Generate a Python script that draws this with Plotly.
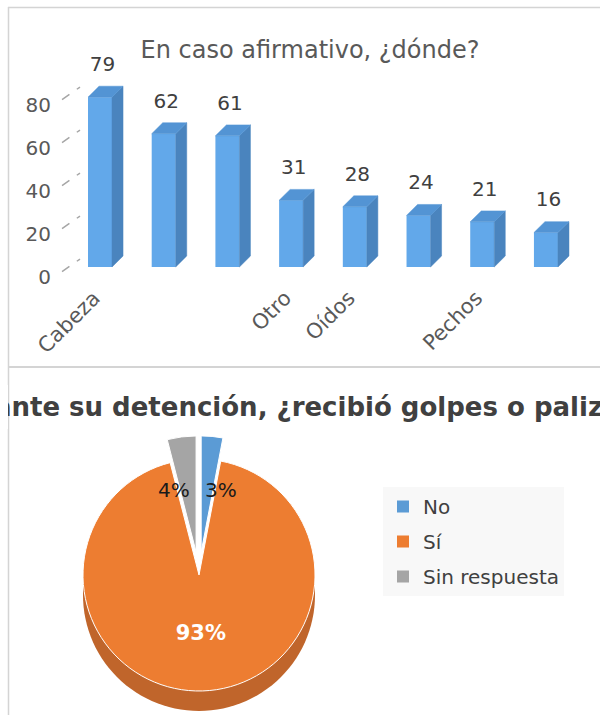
import numpy as np
import plotly.graph_objects as go

# ---------------- data ----------------
bar_title = "En caso afirmativo, ¿dónde?"
bar_values = [79, 62, 61, 31, 28, 24, 21, 16]
# Only the category labels that are visible in the picture (others hidden by the chart)
bar_tick_labels = ["Cabeza", "", "", "Otro", "Oídos", "", "Pechos", ""]
y_ticks = [0, 20, 40, 60, 80]

pie_title = "Durante su detención, ¿recibió golpes o palizas?"
pie_labels = ["No", "Sí", "Sin respuesta"]
pie_values = [3, 93, 4]
pie_colors = ["#5B9BD5", "#ED7D31", "#A5A5A5"]

# ---------------- geometry helpers ----------------
W, H = 600, 715
FONT = "DejaVu Sans"


def px(x):
    return x / W


def py(y):
    return 1 - y / H


idx = list(range(len(bar_values)))
bw = 0.377      # front face width (category units)
dx = 0.173      # 3-D depth, x
dy = 5.1        # 3-D depth, y (value units)
h = bw / 2

# top and side faces of the 3-D bars, built from the data
top_x, top_y, side_x, side_y = [], [], [], []
for i, v in zip(idx, bar_values):
    top_x += [i - h, i + h, i + h + dx, i - h + dx, i - h, None]
    top_y += [v, v, v + dy, v + dy, v, None]
    side_x += [i + h, i + h, i + h + dx, i + h + dx, i + h, None]
    side_y += [0, v, v + dy, dy, 0, None]

fig = go.Figure()

fig.add_trace(go.Scatter(x=side_x, y=side_y, fill="toself", mode="lines",
                         fillcolor="#4A84BE", line=dict(color="#4A84BE", width=0.5),
                         hoverinfo="skip", showlegend=False))
fig.add_trace(go.Scatter(x=top_x, y=top_y, fill="toself", mode="lines",
                         fillcolor="#5394D4", line=dict(color="#5394D4", width=0.5),
                         hoverinfo="skip", showlegend=False))
fig.add_trace(go.Bar(x=idx, y=bar_values, width=bw, marker=dict(color="#62A8EA", line=dict(width=0)),
                     showlegend=False, hoverinfo="skip"))
fig.add_trace(go.Scatter(x=[i + 0.04 for i in idx], y=[v + 14.5 for v in bar_values],
                         mode="text", text=[str(v) for v in bar_values],
                         textfont=dict(family=FONT, size=20, color="#404040"),
                         textposition="middle center", cliponaxis=False,
                         showlegend=False, hoverinfo="skip"))

# ---------------- pie ----------------
pie_cx, pie_cy, pie_r, pull = 199, 575, 116, 0.2
half = pie_r * (1 + pull)
fig.add_trace(go.Pie(
    labels=pie_labels, values=pie_values, sort=False, direction="clockwise", rotation=0,
    pull=[pull, 0, pull],
    marker=dict(colors=pie_colors, line=dict(color="white", width=1)),
    textinfo="percent", textposition=["none", "inside", "none"],
    insidetextorientation="horizontal",
    insidetextfont=dict(family=FONT, size=21, color="white", weight="bold"),
    domain=dict(x=[px(pie_cx - half), px(pie_cx + half)], y=[py(pie_cy + half), py(pie_cy - half)]),
    hoverinfo="skip", showlegend=False,
))

# legend entries for the pie slices
for lab, col in zip(pie_labels, pie_colors):
    fig.add_trace(go.Scatter(x=[None], y=[None], mode="markers", name=lab, legendgroup=lab,
                             marker=dict(symbol="square", size=12, color=col),
                             showlegend=True, hoverinfo="skip"))

# 3-D side of the pie (decoration)
depth = 20
ang = np.linspace(np.pi, 2 * np.pi, 61)
pts = [(pie_cx - pie_r, pie_cy)]
pts += [(pie_cx + pie_r * np.cos(a), pie_cy + depth - pie_r * np.sin(a)) for a in ang]
pts += [(pie_cx + pie_r, pie_cy)]
path = "M " + " L ".join(f"{px(x):.5f},{py(y):.5f}" for x, y in pts) + " Z"

shapes = [dict(type="path", path=path, xref="paper", yref="paper", layer="below",
               fillcolor="#C0652B", line=dict(width=0))]

# frame lines
frame = "#D4D4D4"
shapes += [
    dict(type="line", xref="paper", yref="paper", x0=px(8.5), x1=px(8.5), y0=py(7), y1=0,
         line=dict(color=frame, width=1.5)),
    dict(type="line", xref="paper", yref="paper", x0=px(8), x1=1, y0=py(7.5), y1=py(7.5),
         line=dict(color=frame, width=1.5)),
    dict(type="line", xref="paper", yref="paper", x0=px(8), x1=1, y0=py(367), y1=py(367),
         line=dict(color=frame, width=2)),
]
# slanted 3-D wall tick marks
for t in y_ticks:
    shapes.append(dict(type="line", xref="x", yref="y", x0=-0.596, x1=-0.314, y0=t - 2.1, y1=t + 3.7,
                       line=dict(color="#A6A6A6", width=1.5, dash="dash")))

annotations = [
    dict(text=pie_title, xref="paper", yref="paper", x=px(296), y=py(407), xanchor="center",
         yanchor="middle", showarrow=False,
         font=dict(family=FONT, size=26, color="#404040", weight="bold")),
    # panel clip on the left of the second title
    dict(text=" ", xref="paper", yref="paper", x=0, y=py(407), xanchor="left", yanchor="middle",
         showarrow=False, width=8, height=44, bgcolor="white", borderpad=0, borderwidth=0),
    dict(text=f"{pie_values[2]}%", xref="paper", yref="paper", x=px(174), y=py(490),
         xanchor="center", yanchor="middle",
         showarrow=False, font=dict(family=FONT, size=20, color="#1A1A1A")),
    dict(text=f"{pie_values[0]}%", xref="paper", yref="paper", x=px(221), y=py(490),
         xanchor="center", yanchor="middle",
         showarrow=False, font=dict(family=FONT, size=20, color="#1A1A1A")),
]

fig.update_layout(
    width=W, height=H,
    margin=dict(l=0, r=0, t=0, b=0, autoexpand=False),
    paper_bgcolor="white", plot_bgcolor="rgba(0,0,0,0)",
    font=dict(family=FONT, color="#595959"),
    title=dict(text=bar_title, x=px(310), y=py(50), xref="paper", yref="paper",
               xanchor="center", yanchor="middle", automargin=False,
               font=dict(family=FONT, size=24, color="#595959")),
    xaxis=dict(domain=[px(60), px(585)], range=[-0.628, 7.613], tickmode="array",
               tickvals=idx, ticktext=bar_tick_labels, tickangle=-45, automargin=False,
               tickfont=dict(family=FONT, size=21, color="#595959"),
               showgrid=False, zeroline=False, showline=False, ticks="",
               ticklabelstandoff=5, ticklabelshift=-6),
    yaxis=dict(domain=[py(275.6), py(62.75)], range=[-4, 95], tickmode="array",
               tickvals=y_ticks, tickfont=dict(family=FONT, size=20, color="#595959"),
               showgrid=False, zeroline=False, showline=False, ticks="", automargin=False,
               ticklabelshift=10, ticklabelstandoff=8),
    barmode="overlay",
    showlegend=True,
    legend=dict(x=px(383), y=py(487), xanchor="left", yanchor="top", bgcolor="#F8F8F8",
                tracegroupgap=6, traceorder="grouped",
                font=dict(family=FONT, size=20, color="#404040")),
    shapes=shapes,
    annotations=annotations,
)

fig.write_html("out.html", config={"displayModeBar": False},
               post_script="document.body.style.margin='0px';")
